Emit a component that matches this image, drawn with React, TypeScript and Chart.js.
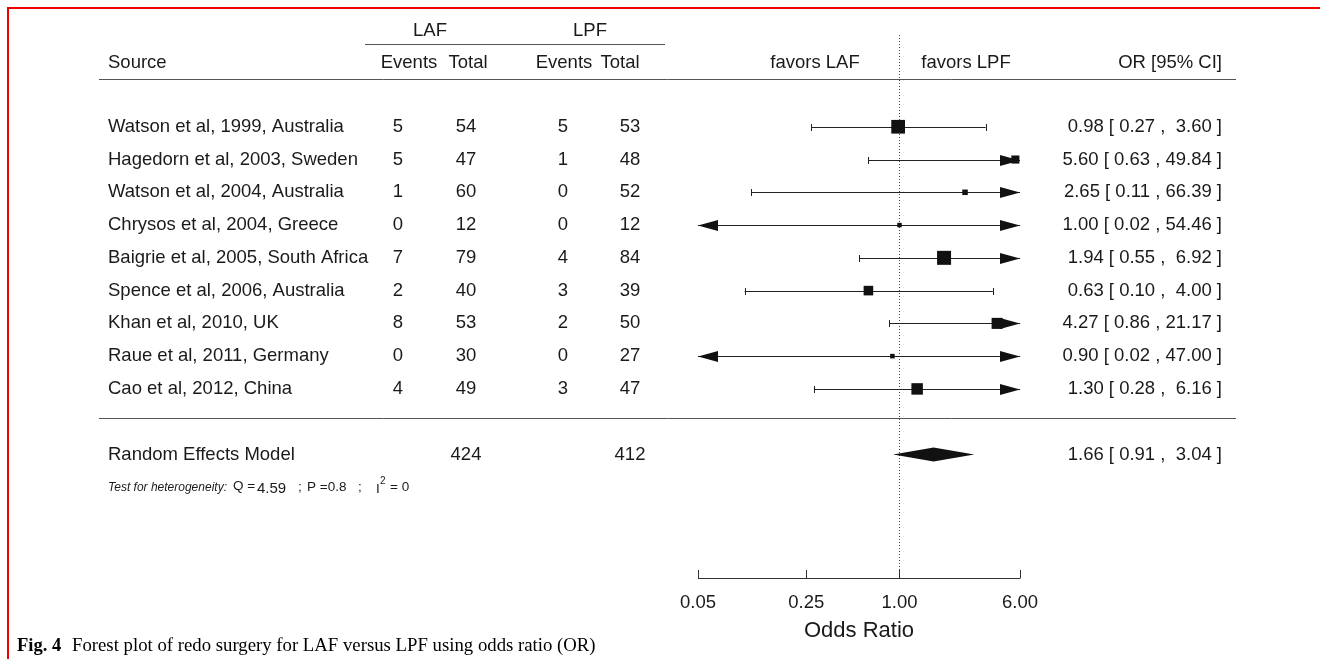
import React, { useEffect, useRef } from "react";
import { Chart, registerables } from "chart.js";

Chart.register(...registerables);

// ---------- data ----------
const studies = [
  "Watson et al, 1999, Australia",
  "Hagedorn et al, 2003, Sweden",
  "Watson et al, 2004, Australia",
  "Chrysos et al, 2004, Greece",
  "Baigrie et al, 2005, South Africa",
  "Spence et al, 2006, Australia",
  "Khan et al, 2010, UK",
  "Raue et al, 2011, Germany",
  "Cao et al, 2012, China",
];
const lafEvents = [5, 5, 1, 0, 7, 2, 8, 0, 4];
const lafTotal = [54, 47, 60, 12, 79, 40, 53, 30, 49];
const lpfEvents = [5, 1, 0, 0, 4, 3, 2, 0, 3];
const lpfTotal = [53, 48, 52, 12, 84, 39, 50, 27, 47];
const oddsRatio = [0.98, 5.6, 2.65, 1.0, 1.94, 0.63, 4.27, 0.9, 1.3];
const ciLower = [0.27, 0.63, 0.11, 0.02, 0.55, 0.1, 0.86, 0.02, 0.28];
const ciUpper = [3.6, 49.84, 66.39, 54.46, 6.92, 4.0, 21.17, 47.0, 6.16];
const studyWeights = [21.6, 7.6, 3.5, 2.3, 22.6, 10.6, 14.1, 2.4, 15.2];
const pooledLabel = "Random Effects Model";
const pooledTotals = [424, 412];
const pooledEstimate = [1.66, 0.91, 3.04]; // OR, lower, upper
const axisTicks = [0.05, 0.25, 1.0, 6.0];
const heteroQ = "4.59";
const heteroP = "0.8";
const heteroI2 = "0";

const SANS = '"Liberation Sans", Arial, Helvetica, sans-serif';
const SERIF = '"Liberation Serif", "Times New Roman", serif';
const TXT = "#1a1a1a";

function fmtOR(or: number, lo: number, hi: number) {
  return `${or.toFixed(2)} [ ${lo.toFixed(2)} , ${hi.toFixed(2).padStart(5, " ")} ]`;
}

export default function App() {
  const ref = useRef<HTMLCanvasElement | null>(null);

  useEffect(() => {
    const canvas = ref.current;
    if (!canvas) return;
    const nStudies = studies.length;
    const rowOf = (i: number) => nStudies - i; // top study at row 9
    const maxW = Math.max(...studyWeights);
    const boxSide = studyWeights.map((w) => 14 * Math.sqrt(w / maxW));

    const forestPlugin = {
      id: "forest",
      beforeDraw(chart: any) {
        const ctx = chart.ctx;
        ctx.save();
        ctx.fillStyle = "#ffffff";
        ctx.fillRect(0, 0, chart.width, chart.height);
        ctx.fillStyle = "#ee0000";
        ctx.fillRect(7, 7, chart.width - 7, 2);
        ctx.fillRect(7, 7, 2, chart.height - 7);
        ctx.restore();
      },
      beforeDatasetsDraw(chart: any) {
        const ctx = chart.ctx;
        const xs = chart.scales.x;
        const ys = chart.scales.y;
        const area = chart.chartArea;
        const xmin = xs.min;
        const xmax = xs.max;
        ctx.save();
        // reference line at OR = 1
        ctx.strokeStyle = "#444";
        ctx.lineWidth = 1;
        ctx.setLineDash([1, 2]);
        const x1 = Math.round(xs.getPixelForValue(1)) + 0.5;
        ctx.beginPath();
        ctx.moveTo(x1, area.top);
        ctx.lineTo(x1, area.bottom);
        ctx.stroke();
        ctx.setLineDash([]);

        // whiskers
        ctx.strokeStyle = "#222";
        ctx.fillStyle = "#111";
        for (let i = 0; i < nStudies; i++) {
          const y = Math.round(ys.getPixelForValue(rowOf(i))) + 0.5;
          const loClip = ciLower[i] < xmin;
          const hiClip = ciUpper[i] > xmax;
          const xl = xs.getPixelForValue(Math.max(ciLower[i], xmin));
          const xr = xs.getPixelForValue(Math.min(ciUpper[i], xmax));
          ctx.beginPath();
          ctx.moveTo(xl, y);
          ctx.lineTo(xr, y);
          ctx.stroke();
          const arrowLen = 20;
          const arrowH = 5.5;
          if (loClip) {
            ctx.beginPath();
            ctx.moveTo(xl, y);
            ctx.lineTo(xl + arrowLen, y - arrowH);
            ctx.lineTo(xl + arrowLen, y + arrowH);
            ctx.closePath();
            ctx.fill();
          } else {
            ctx.beginPath();
            ctx.moveTo(Math.round(xl) + 0.5, y - 3.5);
            ctx.lineTo(Math.round(xl) + 0.5, y + 3.5);
            ctx.stroke();
          }
          if (hiClip) {
            ctx.beginPath();
            ctx.moveTo(xr, y);
            ctx.lineTo(xr - arrowLen, y - arrowH);
            ctx.lineTo(xr - arrowLen, y + arrowH);
            ctx.closePath();
            ctx.fill();
          } else {
            ctx.beginPath();
            ctx.moveTo(Math.round(xr) + 0.5, y - 3.5);
            ctx.lineTo(Math.round(xr) + 0.5, y + 3.5);
            ctx.stroke();
          }
        }
        ctx.restore();
      },
      afterDatasetsDraw(chart: any) {
        const ctx = chart.ctx;
        const xs = chart.scales.x;
        const ys = chart.scales.y;
        const py = (r: number) => ys.getPixelForValue(r);
        ctx.save();

        // pooled diamond
        const yd = py(-1);
        ctx.fillStyle = "#111";
        ctx.beginPath();
        ctx.moveTo(xs.getPixelForValue(pooledEstimate[1]), yd);
        ctx.lineTo(xs.getPixelForValue(pooledEstimate[0]), yd - 7);
        ctx.lineTo(xs.getPixelForValue(pooledEstimate[2]), yd);
        ctx.lineTo(xs.getPixelForValue(pooledEstimate[0]), yd + 7);
        ctx.closePath();
        ctx.fill();

        // horizontal rules
        ctx.strokeStyle = "#555";
        ctx.lineWidth = 1;
        const hline = (x0: number, x1: number, y: number) => {
          const yy = Math.round(y) + 0.5;
          ctx.beginPath();
          ctx.moveTo(x0, yy);
          ctx.lineTo(x1, yy);
          ctx.stroke();
        };
        hline(365, 665, py(11.53));
        hline(99, 1236, py(10.47));
        hline(99, 1236, py(0.11));

        // axis
        const yAxis = chart.chartArea.bottom;
        ctx.strokeStyle = "#333";
        hline(xs.getPixelForValue(axisTicks[0]), xs.getPixelForValue(axisTicks[axisTicks.length - 1]), yAxis);
        axisTicks.forEach((t) => {
          const x = Math.round(xs.getPixelForValue(t)) + 0.5;
          ctx.beginPath();
          ctx.moveTo(x, Math.round(yAxis) + 0.5);
          ctx.lineTo(x, Math.round(yAxis) - 8);
          ctx.stroke();
        });

        // text
        ctx.fillStyle = TXT;
        ctx.textBaseline = "middle";
        const text = (s: string, x: number, y: number, align: CanvasTextAlign = "left", font = `18.5px ${SANS}`) => {
          ctx.font = font;
          ctx.textAlign = align;
          ctx.fillText(s, x, y);
        };

        axisTicks.forEach((t) => {
          text(t.toFixed(2), xs.getPixelForValue(t), yAxis + 25, "center");
        });
        text("Odds Ratio", (xs.left + xs.right) / 2, yAxis + 53, "center", `22px ${SANS}`);

        // header
        text("LAF", 430, py(11.93), "center");
        text("LPF", 590, py(11.93), "center");
        const yh = py(10.95);
        text("Source", 108, yh);
        text("Events", 409, yh, "center");
        text("Total", 468, yh, "center");
        text("Events", 564, yh, "center");
        text("Total", 620, yh, "center");
        text("favors LAF", 815, yh, "center");
        text("favors LPF", 966, yh, "center");
        text("OR [95% CI]", 1222, yh, "right");

        for (let i = 0; i < nStudies; i++) {
          const y = py(rowOf(i));
          text(studies[i], 108, y);
          text(String(lafEvents[i]), 398, y, "center");
          text(String(lafTotal[i]), 466, y, "center");
          text(String(lpfEvents[i]), 563, y, "center");
          text(String(lpfTotal[i]), 630, y, "center");
          text(fmtOR(oddsRatio[i], ciLower[i], ciUpper[i]), 1222, y, "right");
        }

        const yr = py(-1);
        text(pooledLabel, 108, yr);
        text(String(pooledTotals[0]), 466, yr, "center");
        text(String(pooledTotals[1]), 630, yr, "center");
        text(fmtOR(pooledEstimate[0], pooledEstimate[1], pooledEstimate[2]), 1222, yr, "right");

        // heterogeneity
        const yt = py(-2);
        const small = `13.5px ${SANS}`;
        text("Test for heterogeneity:", 108, yt, "left", `italic 12px ${SANS}`);
        text("Q =", 233, yt - 1, "left", small);
        text(heteroQ, 257, yt + 2, "left", `15px ${SANS}`);
        text(";", 298, yt, "left", small);
        text(`P =${heteroP}`, 307, yt, "left", small);
        text(";", 358, yt, "left", small);
        text("I", 376, yt + 2, "left", small);
        text("2", 380, yt - 6, "left", `10px ${SANS}`);
        text(`= ${heteroI2}`, 390, yt, "left", small);

        // caption
        ctx.fillStyle = "#000";
        ctx.textBaseline = "alphabetic";
        text("Fig. 4", 17, 651, "left", `bold 18.5px ${SERIF}`);
        text("Forest plot of redo surgery for LAF versus LPF using odds ratio (OR)", 72, 651, "left", `18.75px ${SERIF}`);

        ctx.restore();
      },
    };

    const chart = new Chart(canvas, {
      type: "scatter",
      data: {
        datasets: [
          {
            data: oddsRatio.map((v, i) => ({ x: v, y: rowOf(i) })),
            pointStyle: "rect",
            pointRadius: boxSide.map((s) => s / 2 / Math.SQRT1_2),
            pointHoverRadius: boxSide.map((s) => s / 2 / Math.SQRT1_2),
            backgroundColor: "#111",
            borderColor: "#111",
            borderWidth: 0,
          },
        ],
      },
      options: {
        responsive: false,
        animation: false,
        devicePixelRatio: 1,
        layout: { padding: { left: 698, right: 300, top: 35, bottom: 81 } },
        scales: {
          x: { type: "logarithmic", min: 0.05, max: 6, display: false },
          y: { type: "linear", min: -4.77, max: 11.8, display: false },
        },
        plugins: {
          legend: { display: false },
          tooltip: { enabled: false },
        },
        events: [],
      },
      plugins: [forestPlugin],
    });
    return () => chart.destroy();
  }, []);

  return (
    <div style={{ position: "absolute", left: 0, top: 0, width: 1320, height: 659, background: "#fff" }}>
      <canvas ref={ref} width={1320} height={659} style={{ display: "block", width: 1320, height: 659 }} />
    </div>
  );
}
